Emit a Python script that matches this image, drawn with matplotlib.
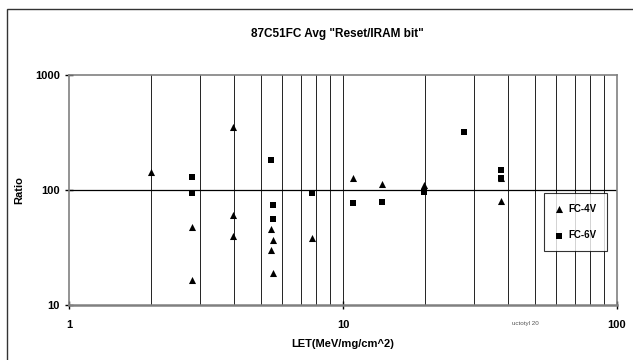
import matplotlib
matplotlib.use("Agg")
import matplotlib.pyplot as plt
from matplotlib.patches import Rectangle
from matplotlib.ticker import FixedLocator, NullLocator, FixedFormatter

plt.rcParams['font.family'] = ['Liberation Sans', 'DejaVu Sans']

# Data
fc4_let = [2.0, 2.8, 2.8, 3.96, 3.96, 3.96, 5.47, 5.57, 5.47, 5.57, 7.73, 10.9, 13.9, 19.7, 37.7, 37.7]
fc4_ratio = [144, 47.9, 16.4, 356, 60.5, 39.7, 45.4, 36.6, 30, 19, 38.4, 126, 113, 111, 128, 80.7]
fc6_let = [2.8, 2.8, 5.47, 5.57, 5.57, 7.73, 10.9, 13.9, 19.7, 27.7, 37.7, 37.7]
fc6_ratio = [129, 93.6, 182.7, 74, 55.5, 93.6, 77.5, 79, 96, 322, 149, 126]

x_ticks = [1, 10, 100]
x_labels = ["1", "10", "100"]
y_ticks = [10, 100, 1000]
y_labels = ["10", "100", "1000"]
x_grid = [2, 3, 4, 5, 6, 7, 8, 9, 20, 30, 40, 50, 60, 70, 80, 90]

W, H = 633, 360
fig = plt.figure(figsize=(W / 100, H / 100), dpi=100)
ax = fig.add_axes([69 / W, 1 - 305 / H, (617 - 69) / W, (305 - 75) / H])

ax.set_xscale('log')
ax.set_yscale('log')
ax.set_xlim(1, 100)
ax.set_ylim(10, 1000)

# gridlines (Excel style: every minor x, major y)
for g in x_grid + [10]:
    ax.axvline(g, color='#222222', lw=0.7, zorder=1)
ax.axhline(100, color='black', lw=0.9, zorder=1)

ax.scatter(fc4_let, fc4_ratio, marker='^', s=26, color='black', zorder=3, label='FC-4V', linewidths=0)
ax.scatter(fc6_let, fc6_ratio, marker='s', s=22, color='black', zorder=3, label='FC-6V', linewidths=0)

ax.xaxis.set_major_locator(FixedLocator(x_ticks))
ax.xaxis.set_major_formatter(FixedFormatter(x_labels))
ax.yaxis.set_major_locator(FixedLocator(y_ticks))
ax.yaxis.set_major_formatter(FixedFormatter(y_labels))
ax.xaxis.set_minor_locator(NullLocator())
ax.yaxis.set_minor_locator(NullLocator())
ax.tick_params(axis='both', direction='inout', length=6, width=1, colors='black',
               labelsize=8)
ax.tick_params(axis='x', pad=8)
for lbl in ax.get_xticklabels() + ax.get_yticklabels():
    lbl.set_fontweight('bold')

for side in ['left', 'bottom', 'top', 'right']:
    ax.spines[side].set_color('#808080')
    ax.spines[side].set_linewidth(1.2)
ax.spines['bottom'].set_linewidth(1.8)

ax.set_xlabel('LET(MeV/mg/cm^2)', fontsize=8, fontweight='bold', labelpad=6)
ax.set_ylabel('Ratio', fontsize=8, fontweight='bold', labelpad=8)
fig.text(337 / W, 1 - 34 / H, '87C51FC Avg "Reset/IRAM bit"', ha='center', va='center',
         fontsize=8.5, fontweight='bold')
fig.text(525 / W, 1 - 323 / H, 'uctotyl 20', ha='center', va='center', fontsize=4.5,
         color='#555555')

leg = ax.legend(loc='upper left', bbox_to_anchor=(544 / W, 1 - 193 / H),
                bbox_transform=fig.transFigure, fontsize=7, frameon=True, fancybox=False,
                borderpad=1.1, labelspacing=1.7, handlelength=0.8, handletextpad=0.6,
                borderaxespad=0, scatterpoints=1)
leg.get_frame().set_edgecolor('black')
leg.get_frame().set_linewidth(0.8)
for t in leg.get_texts():
    t.set_fontweight('bold')

# outer chart border
fig.patches.append(Rectangle((7 / W, -0.1), 1.2, 1.1 - 9 / H, transform=fig.transFigure,
                             fill=False, edgecolor='#333333', lw=1.0))

fig.savefig('out.png', dpi=100)
